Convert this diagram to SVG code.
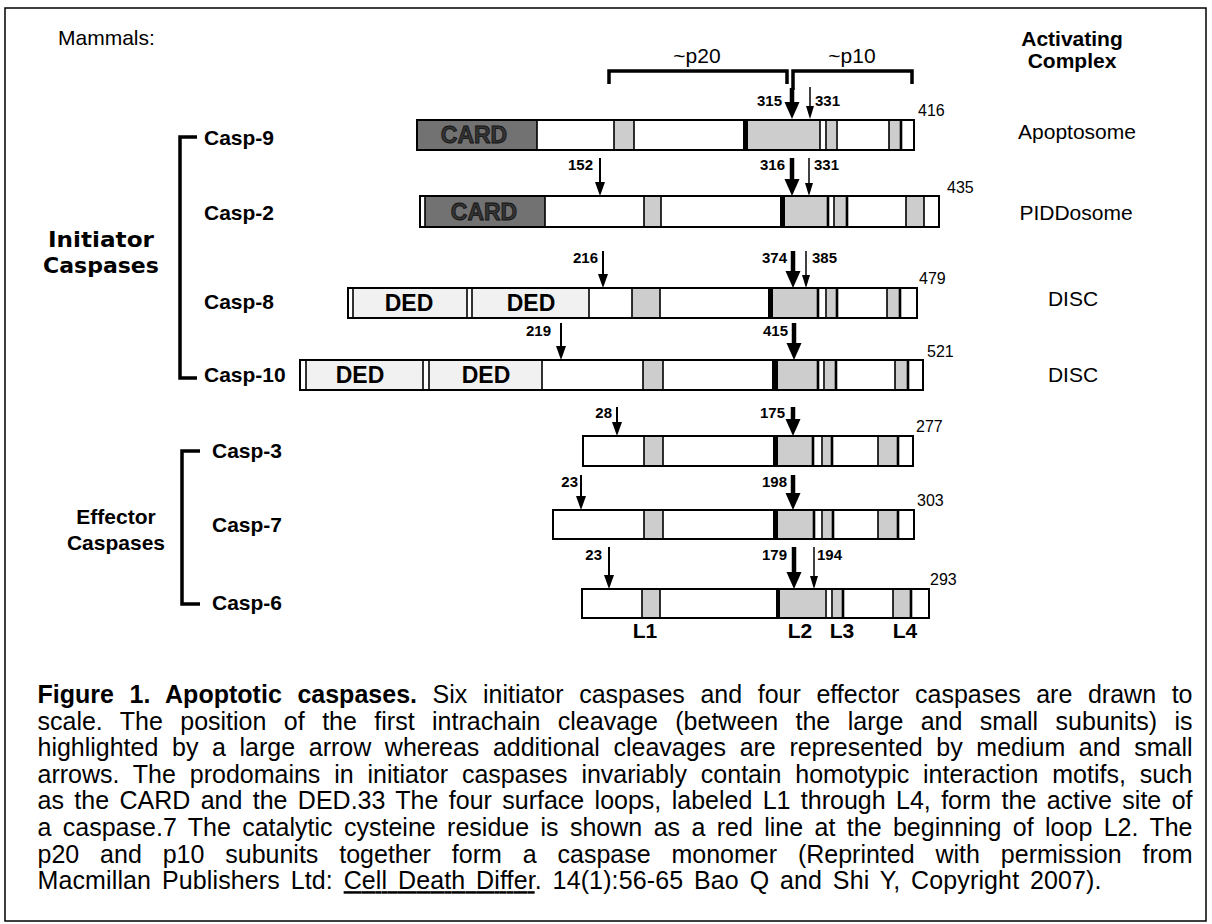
<svg xmlns="http://www.w3.org/2000/svg" width="1212" height="924" viewBox="0 0 1212 924">
<style>
.bg{fill:#fff}
.ol{fill:none;stroke:#000;stroke-width:2}
.card{fill:#727272}
.loop{fill:#cdcdcd}
.ded{fill:#f1f1f1}
.cys{fill:#000}
.sep{stroke:#000;stroke-width:1.6;fill:none}
.thk{stroke:#000;stroke-width:2.6;fill:none}
.sans{font-family:"Liberation Sans",Arial,Helvetica,sans-serif;fill:#000}
.lbl{font-family:"Liberation Sans",Arial,sans-serif;font-weight:bold;font-size:21px}
.num{font-family:"Liberation Sans",Arial,sans-serif;font-weight:bold;font-size:15px}
.len{font-family:"Liberation Sans",Arial,sans-serif;font-size:16px}
.cmp{font-family:"Liberation Sans",Arial,sans-serif;font-size:21px;text-anchor:middle}
.dom{font-family:"Liberation Sans",Arial,sans-serif;font-weight:bold;font-size:23px;text-anchor:middle}
.cardt{fill:#353535;stroke:#111;stroke-width:0.8}
.cap{font-family:"Liberation Sans",Arial,sans-serif;font-size:25px}
.brk{fill:none;stroke:#000;stroke-width:3.5}
.aB{stroke:#000;stroke-width:4.5;marker-end:url(#hB)}
.aM{stroke:#000;stroke-width:2;marker-end:url(#hM)}
.aS{stroke:#000;stroke-width:1.5;marker-end:url(#hS)}
</style>
<defs>
<marker id="hB" markerUnits="userSpaceOnUse" viewBox="-8 0 16 17" refX="0" refY="0" markerWidth="16" markerHeight="17" orient="0"><path d="M-7.5,0H7.5L0,17Z" fill="#000"/></marker>
<marker id="hM" markerUnits="userSpaceOnUse" viewBox="-6 0 12 14" refX="0" refY="0" markerWidth="12" markerHeight="14" orient="0"><path d="M-5,0H5L0,14Z" fill="#000"/></marker>
<marker id="hS" markerUnits="userSpaceOnUse" viewBox="-5 0 10 13" refX="0" refY="0" markerWidth="10" markerHeight="13" orient="0"><path d="M-4,0H4L0,13Z" fill="#000"/></marker>
</defs>

<rect x="5" y="8" width="1201" height="913" fill="none" stroke="#000" stroke-width="1.5"/>

<g id="headers">
<text class="sans" x="58" y="45" font-size="21">Mammals:</text>
<text class="cmp" x="1072" y="46" font-weight="bold">Activating</text>
<text class="cmp" x="1072" y="68" font-weight="bold">Complex</text>
<text class="sans" x="697" y="63" font-size="21" text-anchor="middle">~p20</text>
<text class="sans" x="852" y="63" font-size="21" text-anchor="middle">~p10</text>
<path class="brk" d="M609,84V71H787V84" stroke-width="2.5"/>
<path class="brk" d="M793,90V71H912V84" stroke-width="2.5"/>
</g>

<g id="groups">
<text x="101" y="247" font-family="'DejaVu Sans',Verdana,sans-serif" font-weight="bold" font-size="22" text-anchor="middle" textLength="106" lengthAdjust="spacingAndGlyphs">Initiator</text>
<text x="101" y="273" font-family="'DejaVu Sans',Verdana,sans-serif" font-weight="bold" font-size="22" text-anchor="middle">Caspases</text>
<path class="brk" d="M197,137H180V378H197"/>
<text class="lbl" x="116" y="524" font-size="20" text-anchor="middle">Effector</text>
<text class="lbl" x="116" y="550" font-size="20" text-anchor="middle">Caspases</text>
<path class="brk" d="M200,451H182V604H200" stroke-width="4"/>
</g>

<g id="casp9">
<text class="lbl" x="204" y="145">Casp-9</text>
<rect class="bg" x="417" y="120" width="497" height="30"/>
<rect class="card" x="417" y="120" width="120" height="30"/>
<rect class="loop" x="614" y="120" width="20" height="30"/>
<rect class="loop" x="748" y="120" width="72" height="30"/>
<rect class="loop" x="827" y="120" width="9" height="30"/>
<rect class="loop" x="889" y="120" width="11" height="30"/>
<rect class="cys" x="743" y="120" width="5" height="30"/>
<path class="sep" d="M537,120V150M614,120V150M634,120V150M820,120V150M826,120V150M837,120V150M889,120V150"/>
<path class="thk" d="M901,120V150"/>
<rect class="ol" x="417" y="120" width="497" height="30"/>
<text class="dom cardt" x="474" y="143">CARD</text>
<text class="cmp" x="1077" y="139">Apoptosome</text>
<text class="len" x="918" y="116">416</text>
<text class="num" x="782" y="106" text-anchor="end">315</text>
<text class="num" x="815" y="106">331</text>
</g>

<g id="casp2">
<text class="lbl" x="204" y="220">Casp-2</text>
<rect class="bg" x="420" y="196" width="519" height="31"/>
<rect class="card" x="425" y="196" width="120" height="31"/>
<rect class="loop" x="644" y="196" width="17" height="31"/>
<rect class="loop" x="785" y="196" width="43" height="31"/>
<rect class="loop" x="835" y="196" width="11" height="31"/>
<rect class="loop" x="906" y="196" width="18" height="31"/>
<rect class="cys" x="780" y="196" width="5" height="31"/>
<path class="sep" d="M425,196V227M545,196V227M644,196V227M661,196V227M834,196V227M906,196V227M924,196V227"/>
<path class="thk" d="M828,196V227M847,196V227"/>
<rect class="ol" x="420" y="196" width="519" height="31"/>
<text class="dom cardt" x="484" y="220">CARD</text>
<text class="cmp" x="1076" y="220">PIDDosome</text>
<text class="len" x="947" y="193">435</text>
<text class="num" x="593" y="170" text-anchor="end">152</text>
<text class="num" x="785" y="170" text-anchor="end">316</text>
<text class="num" x="814" y="170">331</text>
</g>

<g id="casp8">
<text class="lbl" x="204" y="309">Casp-8</text>
<rect class="bg" x="348" y="288" width="569" height="30"/>
<rect class="ded" x="353" y="288" width="114" height="30"/>
<rect class="ded" x="472" y="288" width="117" height="30"/>
<rect class="loop" x="632" y="288" width="28" height="30"/>
<rect class="loop" x="773" y="288" width="44" height="30"/>
<rect class="loop" x="827" y="288" width="9" height="30"/>
<rect class="loop" x="887" y="288" width="12" height="30"/>
<rect class="cys" x="768" y="288" width="5" height="30"/>
<path class="sep" d="M353,288V318M467,288V318M472,288V318M589,288V318M632,288V318M660,288V318M826,288V318M887,288V318"/>
<path class="thk" d="M818,288V318M837,288V318M900,288V318"/>
<rect class="ol" x="348" y="288" width="569" height="30"/>
<text class="dom" x="409" y="311">DED</text>
<text class="dom" x="531" y="311">DED</text>
<text class="cmp" x="1073" y="306">DISC</text>
<text class="len" x="919" y="284">479</text>
<text class="num" x="598" y="263" text-anchor="end">216</text>
<text class="num" x="787" y="263" text-anchor="end">374</text>
<text class="num" x="812" y="263">385</text>
</g>

<g id="casp10">
<text class="lbl" x="204" y="382">Casp-10</text>
<rect class="bg" x="300" y="360" width="623" height="30"/>
<rect class="ded" x="306" y="360" width="117" height="30"/>
<rect class="ded" x="429" y="360" width="113" height="30"/>
<rect class="loop" x="643" y="360" width="20" height="30"/>
<rect class="loop" x="778" y="360" width="39" height="30"/>
<rect class="loop" x="825" y="360" width="10" height="30"/>
<rect class="loop" x="895" y="360" width="12" height="30"/>
<rect class="cys" x="772" y="360" width="6" height="30"/>
<path class="sep" d="M306,360V390M423,360V390M429,360V390M542,360V390M643,360V390M663,360V390M824,360V390M895,360V390"/>
<path class="thk" d="M818,360V390M836,360V390M908,360V390"/>
<rect class="ol" x="300" y="360" width="623" height="30"/>
<text class="dom" x="360" y="383">DED</text>
<text class="dom" x="486" y="383">DED</text>
<text class="cmp" x="1073" y="382">DISC</text>
<text class="len" x="927" y="357">521</text>
<text class="num" x="551" y="336" text-anchor="end">219</text>
<text class="num" x="788" y="336" text-anchor="end">415</text>
</g>

<g id="casp3">
<text class="lbl" x="212" y="458">Casp-3</text>
<rect class="bg" x="583" y="436" width="330" height="30"/>
<rect class="loop" x="644" y="436" width="19" height="30"/>
<rect class="loop" x="778" y="436" width="34" height="30"/>
<rect class="loop" x="823" y="436" width="8" height="30"/>
<rect class="loop" x="878" y="436" width="19" height="30"/>
<rect class="cys" x="773" y="436" width="5" height="30"/>
<path class="sep" d="M644,436V466M663,436V466M822,436V466M878,436V466"/>
<path class="thk" d="M813,436V466M832,436V466M898,436V466"/>
<rect class="ol" x="583" y="436" width="330" height="30"/>
<text class="len" x="916" y="432">277</text>
<text class="num" x="612" y="418" text-anchor="end">28</text>
<text class="num" x="785" y="418" text-anchor="end">175</text>
</g>

<g id="casp7">
<text class="lbl" x="212" y="532">Casp-7</text>
<rect class="bg" x="553" y="510" width="361" height="29"/>
<rect class="loop" x="644" y="510" width="19" height="29"/>
<rect class="loop" x="778" y="510" width="35" height="29"/>
<rect class="loop" x="823" y="510" width="9" height="29"/>
<rect class="loop" x="878" y="510" width="19" height="29"/>
<rect class="cys" x="773" y="510" width="5" height="29"/>
<path class="sep" d="M644,510V539M663,510V539M822,510V539M878,510V539"/>
<path class="thk" d="M814,510V539M833,510V539M898,510V539"/>
<rect class="ol" x="553" y="510" width="361" height="29"/>
<text class="len" x="917" y="506">303</text>
<text class="num" x="578" y="487" text-anchor="end">23</text>
<text class="num" x="787" y="487" text-anchor="end">198</text>
</g>

<g id="casp6">
<text class="lbl" x="212" y="610">Casp-6</text>
<rect class="bg" x="582" y="589" width="347" height="29"/>
<rect class="loop" x="642" y="589" width="18" height="29"/>
<rect class="loop" x="780" y="589" width="45" height="29"/>
<rect class="loop" x="833" y="589" width="9" height="29"/>
<rect class="loop" x="893" y="589" width="17" height="29"/>
<rect class="cys" x="776" y="589" width="4" height="29"/>
<path class="sep" d="M642,589V618M660,589V618M826,589V618M832,589V618M893,589V618"/>
<path class="thk" d="M843,589V618M911,589V618"/>
<rect class="ol" x="582" y="589" width="347" height="29"/>
<text class="len" x="930" y="585">293</text>
<text class="num" x="602" y="560" text-anchor="end">23</text>
<text class="num" x="787" y="560" text-anchor="end">179</text>
<text class="num" x="817" y="560">194</text>
<text class="lbl" x="645" y="638" text-anchor="middle">L1</text>
<text class="lbl" x="800" y="638" text-anchor="middle">L2</text>
<text class="lbl" x="842" y="638" text-anchor="middle">L3</text>
<text class="lbl" x="905" y="638" text-anchor="middle">L4</text>
</g>

<g id="connectors">
<line class="aB" x1="792" y1="88" x2="792" y2="102"/>
<line class="aS" x1="810" y1="87" x2="810" y2="106"/>
<line class="aM" x1="600" y1="158" x2="600" y2="182"/>
<line class="aB" x1="792" y1="158" x2="792" y2="179"/>
<line class="aS" x1="809" y1="158" x2="809" y2="183"/>
<line class="aM" x1="603" y1="251" x2="603" y2="274"/>
<line class="aB" x1="793" y1="251" x2="793" y2="271"/>
<line class="aS" x1="806" y1="251" x2="806" y2="275"/>
<line class="aM" x1="561" y1="323" x2="561" y2="346"/>
<line class="aB" x1="794" y1="323" x2="794" y2="343"/>
<line class="aM" x1="617" y1="407" x2="617" y2="422"/>
<line class="aB" x1="793" y1="407" x2="793" y2="419"/>
<line class="aM" x1="581" y1="475" x2="581" y2="496"/>
<line class="aB" x1="793" y1="475" x2="793" y2="493"/>
<line class="aM" x1="609" y1="547" x2="609" y2="575"/>
<line class="aB" x1="794" y1="547" x2="794" y2="572"/>
<line class="aS" x1="814" y1="547" x2="814" y2="576"/>
</g>

<g id="caption" class="cap">
<text x="37.5" y="703" textLength="1155" lengthAdjust="spacing" word-spacing="8.6"><tspan font-weight="bold">Figure 1. Apoptotic caspases.</tspan> Six initiator caspases and four effector caspases are drawn to</text>
<text x="37.5" y="729.6" textLength="1155" lengthAdjust="spacing" word-spacing="10.5">scale. The position of the first intrachain cleavage (between the large and small subunits) is</text>
<text x="37.5" y="756.2" textLength="1155" lengthAdjust="spacing" word-spacing="6.7">highlighted by a large arrow whereas additional cleavages are represented by medium and small</text>
<text x="37.5" y="782.8" textLength="1155" lengthAdjust="spacing" word-spacing="6.9">arrows. The prodomains in initiator caspases invariably contain homotypic interaction motifs, such</text>
<text x="37.5" y="809.4" textLength="1155" lengthAdjust="spacing" word-spacing="3.4">as the CARD and the DED.33 The four surface loops, labeled L1 through L4, form the active site of</text>
<text x="37.5" y="836" textLength="1155" lengthAdjust="spacing" word-spacing="4.4">a caspase.7 The catalytic cysteine residue is shown as a red line at the beginning of loop L2. The</text>
<text x="37.5" y="862.6" textLength="1155" lengthAdjust="spacing" word-spacing="14">p20 and p10 subunits together form a caspase monomer (Reprinted with permission from</text>
<text x="37.5" y="889.2" textLength="1064" lengthAdjust="spacing" word-spacing="3.7">Macmillan Publishers Ltd: <tspan text-decoration="underline">Cell Death Differ</tspan>. 14(1):56-65 Bao Q and Shi Y, Copyright 2007).</text>
</g>
</svg>
